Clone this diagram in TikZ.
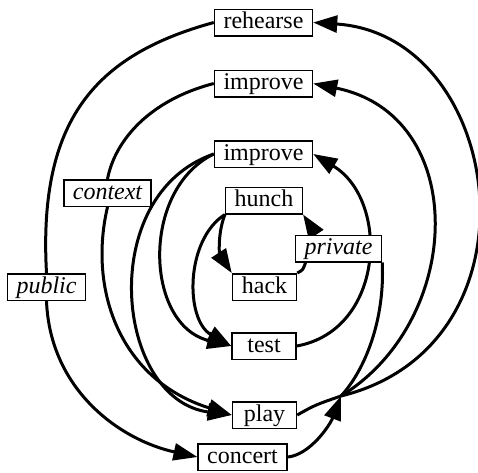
\documentclass[tikz,border=0pt]{standalone}
\usepackage{fontspec}
\setmainfont{Liberation Serif}
\usetikzlibrary{arrows.meta,backgrounds}

\tikzset{
  stage/.style={draw, fill=white, line width=1.5pt, minimum width=64pt, minimum height=26pt,
    inner xsep=9pt, inner ysep=2.5pt, text height=17pt, text depth=4.5pt,
    font=\fontsize{24}{27}\selectfont},
  mode/.style={stage, font=\fontsize{24}{27}\selectfont\itshape},
  flow/.style={line width=3pt, -{Triangle[length=24pt,width=17pt]}},
  plainlink/.style={line width=3pt}
}

\begin{document}
\begin{tikzpicture}[x=1pt, y=-1pt]
  \useasboundingbox (0,0) rectangle (478,472);
  \node[stage] (rehearse) at (263.5,22.5) {rehearse};
  \node[stage] (improveA) at (263.5,83.5) {improve};
  \node[stage] (improveB) at (263.5,154) {improve};
  \node[stage] (hunch) at (264,200.5) {hunch};
  \node[mode] (context) at (107.5,193) {context};
  \node[mode] (private) at (338.5,248.5) {private};
  \node[stage] (hack) at (264.5,287) {hack};
  \node[mode] (public) at (46.5,287) {public};
  \node[stage] (test) at (264,346) {test};
  \node[stage] (play) at (264.5,415) {play};
  \node[stage] (concert) at (242.5,457) {concert};
  \coordinate (merge) at (341,396);
  \begin{scope}[on background layer]
  \draw[plainlink] (rehearse.west) .. controls (95,55) and (38,120) .. (public.north);
  \draw[flow] (public.south) .. controls (50,390) and (120,440) .. (concert.west);
  \draw[plainlink] (improveA.west) .. controls (150,100) and (115,140) .. (context.north);
  \draw[flow] (context.south) .. controls (88,290) and (120,380) .. (play.west);
  \draw[flow] (improveB.west) .. controls (95,195) and (115,400) .. (play.west);
  \draw[flow] (improveB.west) .. controls (140,190) and (145,325) .. (test.west);
  \draw[flow] (hunch.south west) .. controls (185,240) and (185,320) .. (test.west);
  \draw[flow] (hunch.south west) .. controls (217,235) and (220,255) .. (hack.north west);
  \draw[plainlink] (hack.north east) .. controls (303,270) .. (private.203);
  \draw[flow] (private.148) -- (hunch.south east);
  \draw[flow] (test.east) .. controls (385,330) and (390,200) .. (improveB.east);
  \draw[plainlink] (play.east) .. controls (315,405) .. (merge);
  \draw[plainlink] (private.south east) .. controls (385,320) and (365,370) .. (merge);
  \draw[flow] (concert.east) .. controls (310,455) and (330,425) .. (merge);
  \draw[flow] (merge) .. controls (465,320) and (470,115) .. (improveA.east);
  \draw[flow] (merge) .. controls (548,345) and (505,35) .. (rehearse.east);
  \end{scope}
\end{tikzpicture}
\end{document}
